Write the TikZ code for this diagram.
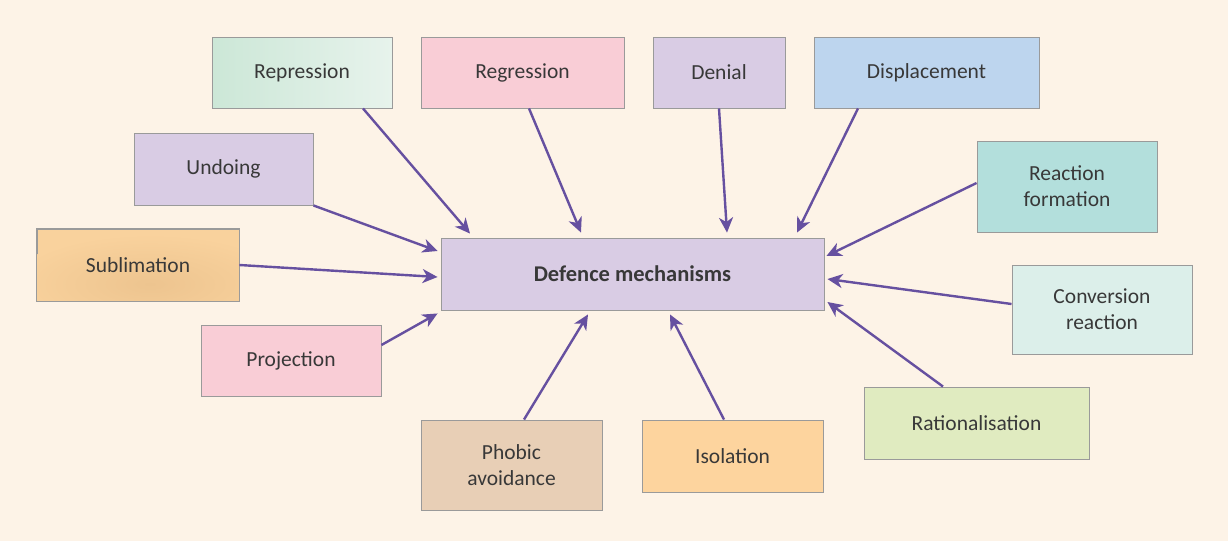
\documentclass[tikz,border=0pt]{standalone}
\usepackage{fontspec}
\setmainfont{Carlito}
\usetikzlibrary{arrows.meta}
\definecolor{bgcream}{HTML}{FDF3E7}
\definecolor{arrowpurple}{HTML}{6650A0}
\definecolor{boxline}{HTML}{9A9A9A}
\definecolor{txtgray}{HTML}{383838}
\definecolor{lavender}{HTML}{D9CCE4}
\definecolor{pinkish}{HTML}{F9CDD6}
\definecolor{skyblue}{HTML}{BDD5EE}
\definecolor{tealish}{HTML}{B3DFDC}
\definecolor{mint}{HTML}{DCEFEA}
\definecolor{apricot}{HTML}{F9D29D}
\definecolor{apricotdark}{HTML}{EDC48F}
\definecolor{peach}{HTML}{FDD49E}
\definecolor{tan}{HTML}{E8CFB6}
\definecolor{lime}{HTML}{E0EBC0}
\definecolor{greenL}{HTML}{CCE7D7}
\definecolor{greenR}{HTML}{E7F3EC}
\tikzset{
  mech/.style={draw=boxline, line width=0.9pt, minimum width=180pt, minimum height=71pt,
    inner sep=0pt, align=center, text=txtgray, font=\fontsize{21.5}{26}\selectfont},
  hub/.style={mech, minimum width=383pt, minimum height=72pt, font=\fontsize{22.5}{27}\selectfont\bfseries},
  arr/.style={draw=arrowpurple, line width=2.4pt,
    -{Stealth[length=15pt, width=14pt, inset=4.5pt]}}
}
\begin{document}
\begin{tikzpicture}[x=1pt,y=-1pt]
\fill[bgcream] (0,0) rectangle (1228,541);
\useasboundingbox (0,0) rectangle (1228,541);

% central node
\node[hub, fill=lavender] (dm) at (632.5,274) {Defence mechanisms};

% surrounding mechanisms
\node[mech, left color=greenL, right color=greenR] (rep) at (302,72.5) {Repression};
\node[mech, fill=pinkish, minimum width=203pt] (reg) at (522.5,72.5) {Regression};
\node[mech, fill=lavender, minimum width=132pt] (den) at (719,72.5) {Denial};
\node[mech, fill=skyblue, minimum width=225pt] (dis) at (926.5,72.5) {Displacement};
\node[mech, fill=lavender, minimum width=179pt, minimum height=72pt] (und) at (223.5,169) {Undoing};
\node[mech, fill=tealish, minimum height=91pt] (rf) at (1067,186.5) {Reaction\\formation};
\node[mech, fill=apricot, minimum width=202pt, minimum height=72pt] (sub) at (138,265) {};
\begin{scope}
  \clip (sub.south west) rectangle (sub.north east);
  \shade[inner color=apricotdark, outer color=apricot] (150,284) ellipse (140pt and 50pt);
\end{scope}
\draw[boxline, line width=0.9pt] (sub.south west) rectangle (sub.north east);
\node[text=txtgray, font=\fontsize{21.5}{26}\selectfont] at (sub.center) {Sublimation};
\node[mech, fill=mint, minimum height=89pt] (cr) at (1102,309.5) {Conversion\\reaction};
\node[mech, fill=pinkish] (proj) at (291,360.5) {Projection};
\node[mech, fill=lime, minimum width=225pt, minimum height=72pt] (rat) at (976.5,423) {Rationalisation};
\node[mech, fill=tan, minimum width=181pt, minimum height=90pt] (pa) at (511.5,465) {Phobic\\avoidance};
\node[mech, fill=peach, minimum width=181pt, minimum height=72pt] (iso) at (732.5,456) {Isolation};

% connectors pointing into the hub
\draw[arr] ([xshift=61pt]rep.south) -- ([xshift=-162.5pt,yshift=4pt]dm.north);
\draw[arr] ([xshift=6.5pt]reg.south) -- ([xshift=-51.5pt,yshift=5pt]dm.north);
\draw[arr] (den.south) -- ([xshift=94.5pt,yshift=5pt]dm.north);
\draw[arr] ([xshift=-68.5pt]dis.south) -- ([xshift=164.5pt,yshift=5pt]dm.north);
\draw[arr] (und.south east) -- ([xshift=-3pt,yshift=23pt]dm.west);
\draw[arr] ([yshift=3.5pt]rf.west) -- ([xshift=2pt,yshift=18pt]dm.east);
\draw[arr] (sub.east) -- ([xshift=-3pt,yshift=-3pt]dm.west);
\draw[arr] ([yshift=5.5pt]cr.west) -- ([xshift=3pt,yshift=-5pt]dm.east);
\draw[arr] ([yshift=15.5pt]proj.east) -- ([xshift=-3pt,yshift=-3pt]dm.south west);
\draw[arr] ([xshift=-33.5pt]rat.north) -- ([xshift=3pt,yshift=-28pt]dm.east);
\draw[arr] ([xshift=12.5pt]pa.north) -- ([xshift=-44.5pt,yshift=-4pt]dm.south);
\draw[arr] ([xshift=-8.5pt]iso.north) -- ([xshift=37.5pt,yshift=-4pt]dm.south);
\end{tikzpicture}
\end{document}
